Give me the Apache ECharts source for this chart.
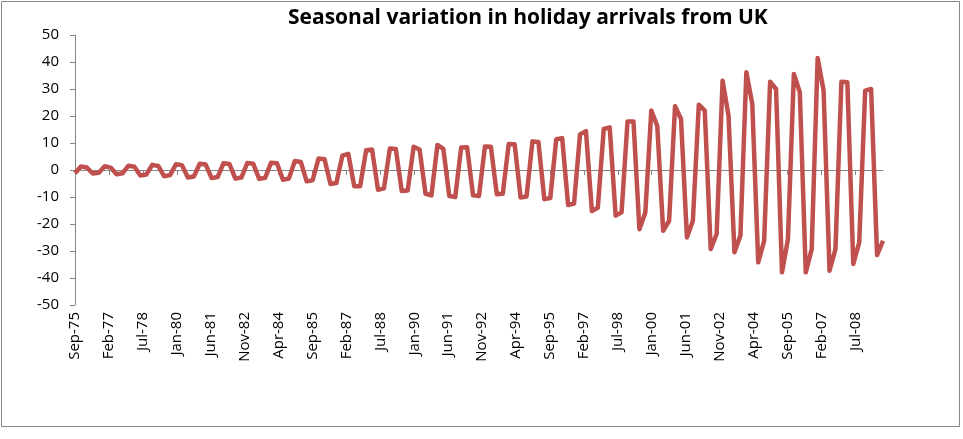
<!DOCTYPE html>
<html>
<head>
<meta charset="utf-8">
<script src="https://cdn.jsdelivr.net/npm/echarts@6/dist/echarts.min.js"></script>
<style>
  html, body { margin: 0; padding: 0; background: #fff; }
  #chart { width: 963px; height: 439px; }
</style>
</head>
<body>
<div id="chart"></div>
<script>
// quarterly seasonal component, Sep-75 .. Sep-09 (one row per year: Dec, Mar, Jun, Sep)
const firstValue = -1.2;
const seasonal = [
  1.3, 0.9, -1.3, -1.0,
  1.4, 0.9, -1.6, -1.2,
  1.6, 1.2, -2.0, -1.7,
  1.9, 1.5, -2.3, -1.9,
  2.1, 1.8, -2.8, -2.4,
  2.3, 2.0, -3.0, -2.6,
  2.5, 2.2, -3.2, -2.8,
  2.6, 2.3, -3.3, -2.9,
  2.7, 2.5, -3.6, -3.2,
  3.3, 3.0, -4.2, -3.8,
  4.3, 4.0, -5.2, -4.8,
  5.3, 6.0, -6.0, -6.0,
  7.3, 7.6, -7.3, -6.8,
  8.0, 7.8, -7.8, -7.6,
  8.6, 7.6, -8.8, -9.4,
  9.3, 7.8, -9.6, -10.0,
  8.3, 8.4, -9.4, -9.6,
  8.7, 8.6, -9.0, -8.8,
  9.6, 9.5, -10.2, -9.8,
  10.6, 10.4, -10.8, -10.4,
  11.4, 11.8, -13.0, -12.4,
  13.2, 14.4, -15.2, -14.0,
  15.2, 15.8, -16.9, -15.7,
  18.0, 18.0, -21.9, -15.7,
  22.0, 16.4, -22.5, -18.8,
  23.6, 18.9, -25.0, -18.8,
  24.2, 22.0, -29.3, -23.7,
  33.1, 20.1, -30.5, -24.3,
  36.2, 24.4, -34.2, -26.2,
  32.7, 30.0, -37.9, -25.6,
  35.6, 28.8, -37.9, -29.3,
  41.5, 29.4, -37.3, -29.3,
  32.7, 32.5, -34.8, -26.8,
  29.4, 30.0, -31.5, -26.2
];
const tickLabels = ['Sep-75', 'Feb-77', 'Jul-78', 'Jan-80', 'Jun-81', 'Nov-82', 'Apr-84',
  'Sep-85', 'Feb-87', 'Jul-88', 'Jan-90', 'Jun-91', 'Nov-92', 'Apr-94', 'Sep-95',
  'Feb-97', 'Jul-98', 'Jan-00', 'Jun-01', 'Nov-02', 'Apr-04', 'Sep-05', 'Feb-07', 'Jul-08'];

// x is months since Sep-75; labels fall every ~17.13 months
const labelStep = 17.13;
const values = [firstValue].concat(seasonal);
const lineData = values.map((v, i) => [i * 3, v]);
const lastMonth = (values.length - 1) * 3;
const tickValues = tickLabels.map((_, k) => k * labelStep);

const font = '"Open Sans", Lato, sans-serif';

const chart = echarts.init(document.getElementById('chart'));
chart.setOption({
  animation: false,
  title: {
    text: 'Seasonal variation in holiday arrivals from UK',
    left: 283,
    top: 3,
    textStyle: { color: '#000', fontSize: 21, fontWeight: 'bold', fontFamily: font }
  },
  graphic: [{
    type: 'rect',
    shape: { x: 1.5, y: 1.5, width: 958, height: 425 },
    style: { fill: 'none', stroke: '#868686', lineWidth: 1 },
    silent: true
  }],
  grid: { left: 75, right: 80, top: 35, bottom: 134 },
  xAxis: [
    {
      type: 'value',
      min: 0,
      max: lastMonth,
      axisLine: { onZero: true, lineStyle: { color: '#868686', width: 1 } },
      axisTick: { show: true, length: 5, customValues: tickValues, lineStyle: { color: '#868686' } },
      axisLabel: { show: false },
      splitLine: { show: false }
    },
    {
      type: 'value',
      position: 'bottom',
      min: 0,
      max: lastMonth,
      axisLine: { show: false, onZero: false },
      axisTick: { show: false },
      splitLine: { show: false },
      axisLabel: {
        rotate: 90,
        margin: 7,
        color: '#000',
        fontSize: 15,
        fontFamily: font,
        customValues: tickValues,
        formatter: v => tickLabels[Math.round(v / labelStep)] || ''
      }
    }
  ],
  yAxis: {
    type: 'value',
    min: -50,
    max: 50,
    interval: 10,
    axisLine: { show: true, lineStyle: { color: '#868686', width: 1 } },
    axisTick: { show: true, length: 5, lineStyle: { color: '#868686' } },
    axisLabel: { color: '#000', fontSize: 15, fontFamily: font, margin: 16 },
    splitLine: { show: false }
  },
  series: [{
    type: 'line',
    xAxisIndex: 0,
    data: lineData,
    showSymbol: false,
    lineStyle: { color: '#C0504D', width: 4.5, join: 'round' }
  }]
});
</script>
</body>
</html>
